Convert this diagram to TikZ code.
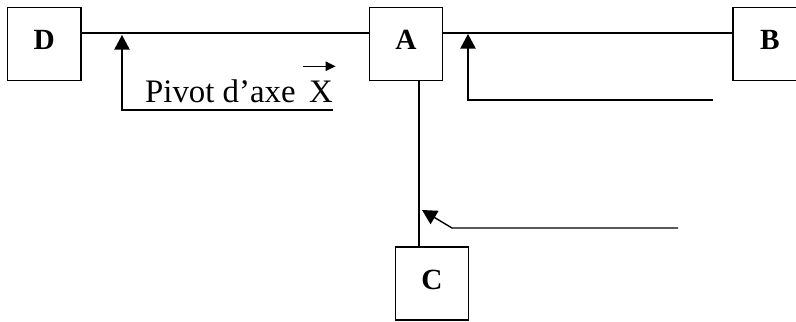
\documentclass[tikz,border=0pt]{standalone}
\usepackage{fontspec}
\setmainfont{Liberation Serif}
\usetikzlibrary{arrows.meta, positioning}
\tikzset{
  blk/.style={rectangle,draw,line width=1.3pt,minimum width=22mm,minimum height=22mm,text depth=2.4mm,font=\fontsize{25}{28}\selectfont\bfseries},
  lnk/.style={line width=1.2pt},
  arr/.style={-{Triangle[length=4.4mm,width=4.6mm]},line width=1.2pt},
  vec/.style={-{Triangle[length=3mm,width=2.8mm]},line width=1.2pt},
  txt/.style={inner sep=0pt,font=\fontsize{28}{30}\selectfont}
}

\begin{document}
\begin{tikzpicture}[x=0.3mm,y=-0.3mm]
  \useasboundingbox (0,0) rectangle (796,322);

  \node[blk] (A) at (406,44) {A};
  \node[blk, left=86.1mm of A] (D) {D};
  \node[blk, right=86.7mm of A] (B) {B};
  \node[blk] (C) at (432,283.5) {C};

  % liaisons
  \draw[lnk] ([yshift=3.3mm]D.east) -- ([yshift=3.3mm]A.west);
  \draw[lnk] ([yshift=3.3mm]A.east) -- ([yshift=3.3mm]B.west);
  \draw[lnk] ([xshift=3.9mm]A.south) -- ([xshift=3.9mm]A.south |- C.north);

  % fleches
  \coordinate (t1) at (122,35);
  \coordinate (e1) at (333,110);
  \draw[arr] (e1) -| (t1);
  \coordinate (t2) at (468,34);
  \coordinate (e2) at (713,100);
  \draw[arr] (e2) -| (t2);
  \coordinate (t3) at (422,210);
  \coordinate (k3) at (452,228);
  \coordinate (e3) at (678,228);
  \draw[arr] (e3) -- (k3) -- (t3);

  \node[txt, anchor=base west] (piv) at (145,103) {Pivot d'axe};
  \node[txt, anchor=base east] (vx) at (333,103) {X};
  \draw[vec] ([xshift=-5.5mm,yshift=4.5mm]vx.north) -- ([xshift=4.4mm,yshift=4.5mm]vx.north);
\end{tikzpicture}
\end{document}
